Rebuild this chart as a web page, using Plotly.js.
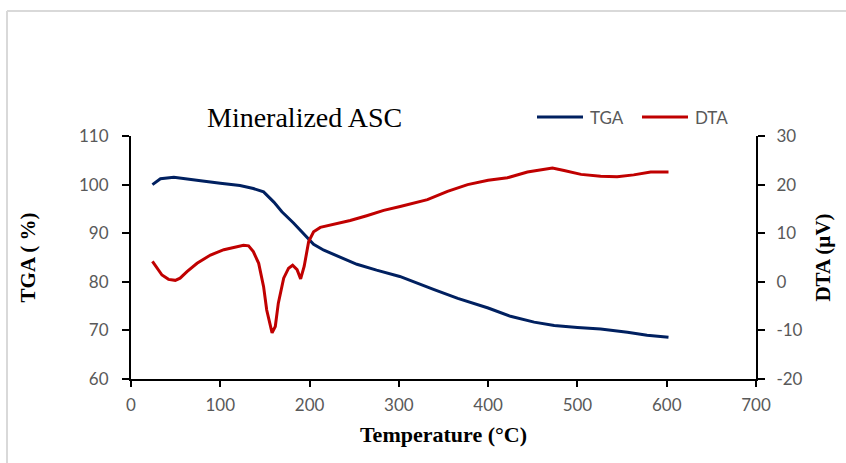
<!DOCTYPE html>
<html>
<head>
<meta charset="utf-8">
<script src="https://cdn.plot.ly/plotly-3.0.1.min.js"></script>
<style>
html,body{margin:0;padding:0;background:#fff;}
#chart{width:846px;height:463px;}
</style>
</head>
<body>
<div id="chart"></div>
<script>
var tgaTemp = [24, 33, 48, 59, 78, 100, 122, 137, 148.5, 160, 169, 182, 193, 204.5, 216, 234, 253, 275, 301, 339.5, 366, 400, 425, 451.5, 474, 500, 526, 556, 578, 602];
var tgaVal  = [100, 101.2, 101.5, 101.2, 100.8, 100.3, 99.8, 99.2, 98.5, 96.4, 94.4, 92.1, 90, 87.7, 86.5, 85.1, 83.6, 82.4, 81.1, 78.4, 76.6, 74.6, 72.9, 71.7, 71.0, 70.6, 70.3, 69.6, 69.0, 68.6];

var dtaTemp = [24, 29, 34.7, 42, 49.6, 55, 62.7, 74, 89, 104, 115, 126, 131.7, 137, 143, 148.5, 152, 158, 161.6, 165, 171, 176.5, 181, 186, 190, 194, 199, 204.5, 212, 227, 245.5, 264, 283, 301.5, 332, 354.5, 377, 400, 421.6, 444, 459, 472, 485, 504, 526, 544.5, 563, 582, 602];
var dtaVal  = [4.2, 2.8, 1.4, 0.5, 0.3, 0.75, 2.1, 3.8, 5.5, 6.6, 7.1, 7.5, 7.4, 6.2, 3.8, -1, -5.8, -10.5, -9.2, -4.4, 0.75, 2.8, 3.4, 2.5, 0.6, 3.2, 8.3, 10.3, 11.2, 11.8, 12.6, 13.6, 14.7, 15.5, 16.9, 18.6, 20.0, 20.9, 21.4, 22.6, 23.1, 23.4, 22.9, 22.1, 21.7, 21.6, 22.0, 22.6, 22.6];

var xTicks = [0, 100, 200, 300, 400, 500, 600, 700];
var tgaTicks = [60, 70, 80, 90, 100, 110];
var dtaTicks = [-20, -10, 0, 10, 20, 30];
var seriesNames = ['TGA', 'DTA'];
var seriesColors = ['#002060', '#C00000'];

var tickFont = {family: 'Lato, "Open Sans", sans-serif', size: 17, color: '#595959'};
var titleFont = {family: '"Liberation Serif", "Times New Roman", serif', size: 21, color: '#000'};

var traces = [
  {x: tgaTemp, y: tgaVal, name: seriesNames[0], type: 'scatter', mode: 'lines',
   line: {color: seriesColors[0], width: 3}, yaxis: 'y'},
  {x: dtaTemp, y: dtaVal, name: seriesNames[1], type: 'scatter', mode: 'lines',
   line: {color: seriesColors[1], width: 3}, yaxis: 'y2'}
];

// plot area in pixels: left 131, right 756, top 136, bottom 379
var PW = 625, PH = 243;
function px(x) { return (x - 131) / PW; }
function py(y) { return (379 - y) / PH; }

var legendLineStarts = [537, 642];
var legendShapes = [];
var legendAnns = [];
for (var i = 0; i < seriesNames.length; i++) {
  legendShapes.push({type: 'line', xref: 'paper', yref: 'paper',
    x0: px(legendLineStarts[i]), x1: px(legendLineStarts[i] + 46), y0: py(117), y1: py(117),
    line: {color: seriesColors[i], width: 3}});
  legendAnns.push({xref: 'paper', yref: 'paper', x: px(legendLineStarts[i] + 51), y: py(117),
    xanchor: 'left', yanchor: 'middle', showarrow: false, text: seriesNames[i],
    font: {family: 'Lato, "Open Sans", sans-serif', size: 17, color: '#595959'}});
}

var layout = {
  width: 846, height: 463,
  margin: {l: 131, r: 90, t: 136, b: 84},
  paper_bgcolor: '#fff', plot_bgcolor: '#fff',
  showlegend: false,
  title: {text: 'Mineralized ASC', font: {family: '"Liberation Serif", "Times New Roman", serif', size: 28, color: '#000'},
          xref: 'paper', x: px(207), xanchor: 'left', yref: 'container', y: 1 - 117/463, yanchor: 'middle'},
  xaxis: {range: [0, 700], tickvals: xTicks, ticktext: xTicks.map(String), automargin: false,
          showgrid: false, zeroline: false, showline: true, linecolor: '#000', linewidth: 2,
          ticks: 'outside', ticklen: 6, tickwidth: 2, tickcolor: '#000', tickfont: tickFont,
          ticklabelstandoff: 4,
          title: {text: '<b>Temperature (°C)</b>', font: {family: '"Liberation Serif", "Times New Roman", serif', size: 22, color: '#000'}, standoff: 12}},
  yaxis: {range: [60, 110], tickvals: tgaTicks, ticktext: tgaTicks.map(String), automargin: false,
          showgrid: false, zeroline: false, showline: true, linecolor: '#000', linewidth: 2,
          ticks: 'outside', ticklen: 7, tickwidth: 2, tickcolor: '#000', tickfont: tickFont,
          ticklabelstandoff: 10,
          title: {text: '<b>TGA ( %)</b>', font: titleFont, standoff: 38}},
  yaxis2: {range: [-20, 30], tickvals: dtaTicks, ticktext: dtaTicks.map(String), automargin: false,
           overlaying: 'y', side: 'right',
           showgrid: false, zeroline: false, showline: true, linecolor: '#000', linewidth: 2,
           ticks: 'outside', ticklen: 7, tickwidth: 2, tickcolor: '#000', tickfont: tickFont,
           ticklabelstandoff: 8,
           title: {text: '<b>DTA (µV)</b>', font: titleFont, standoff: 14}},
  annotations: legendAnns,
  shapes: [
    {type: 'line', xref: 'paper', yref: 'paper', x0: px(7), x1: px(850), y0: py(11), y1: py(11),
     line: {color: '#D9D9D9', width: 2}},
    {type: 'line', xref: 'paper', yref: 'paper', x0: px(7), x1: px(7), y0: py(11), y1: py(470),
     line: {color: '#D9D9D9', width: 2}}
  ].concat(legendShapes)
};

Plotly.newPlot('chart', traces, layout, {displayModeBar: false, staticPlot: true});
</script>
</body>
</html>
